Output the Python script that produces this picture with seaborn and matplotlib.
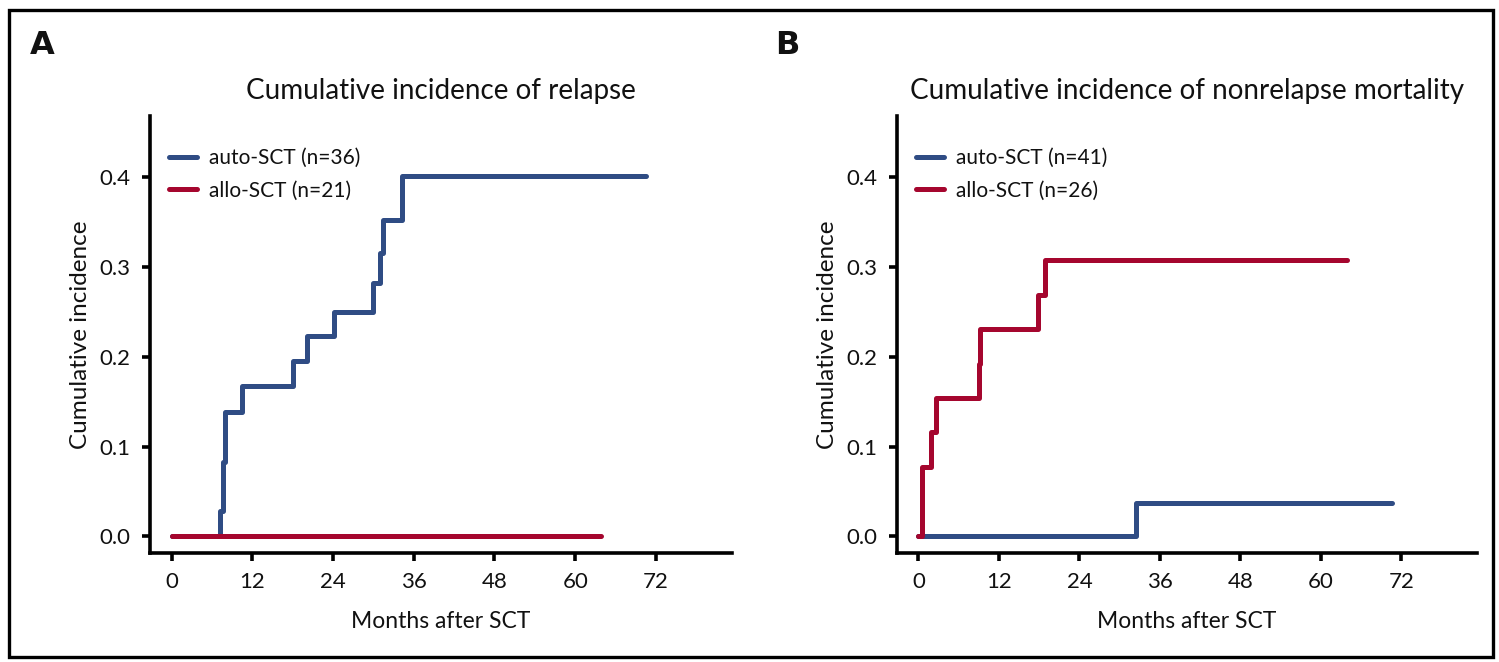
import matplotlib
matplotlib.use("Agg")
import matplotlib.pyplot as plt
import seaborn as sns
import pandas as pd
from matplotlib.patches import Rectangle

# ---- data ----
relapse_auto_t = [0, 7.2, 7.6, 7.9, 10.4, 18.1, 20.1, 24.2, 29.9, 31.0, 31.5, 34.2, 70.5]
relapse_auto_v = [0, 0.028, 0.083, 0.139, 0.167, 0.195, 0.223, 0.250, 0.282, 0.315, 0.352, 0.401, 0.401]
relapse_allo_t = [0, 63.9]
relapse_allo_v = [0, 0]

nrm_auto_t = [0, 32.5, 70.6]
nrm_auto_v = [0, 0.037, 0.037]
nrm_allo_t = [0, 0.5, 0.6, 1.85, 2.6, 9.0, 9.2, 17.9, 18.8, 63.9]
nrm_allo_v = [0, 0.036, 0.077, 0.116, 0.154, 0.192, 0.231, 0.269, 0.308, 0.308]

labels_A = ["auto-SCT (n=36)", "allo-SCT (n=21)"]
labels_B = ["auto-SCT (n=41)", "allo-SCT (n=26)"]
titles = ["Cumulative incidence of relapse", "Cumulative incidence of nonrelapse mortality"]
panel_letters = ["A", "B"]
xticks = [0, 12, 24, 36, 48, 60, 72]
yticks = [0.0, 0.1, 0.2, 0.3, 0.4]
xlabel = "Months after SCT"
ylabel = "Cumulative incidence"

BLUE = "#2f4c84"
RED = "#a5062e"

sns.set_theme(style="white")
FONT = ["Lato", "DejaVu Sans"]
plt.rcParams["font.family"] = FONT
plt.rcParams["text.color"] = "#111111"
plt.rcParams["axes.labelcolor"] = "#111111"
plt.rcParams["xtick.color"] = "black"
plt.rcParams["ytick.color"] = "black"

def make_df(t1, v1, t2, v2, labs):
    d1 = pd.DataFrame({"month": t1, "ci": v1, "group": labs[0]})
    d2 = pd.DataFrame({"month": t2, "ci": v2, "group": labs[1]})
    return pd.concat([d1, d2], ignore_index=True)

dfA = make_df(relapse_auto_t, relapse_auto_v, relapse_allo_t, relapse_allo_v, labels_A)
dfB = make_df(nrm_auto_t, nrm_auto_v, nrm_allo_t, nrm_allo_v, labels_B)

fig = plt.figure(figsize=(14.99, 6.62), dpi=100)
W, H = 1499, 662
axA = fig.add_axes([150 / W, 1 - 553 / H, 582 / W, 437 / H])
axB = fig.add_axes([897 / W, 1 - 553 / H, 580 / W, 437 / H])

for ax, df, labs, title in [(axA, dfA, labels_A, titles[0]), (axB, dfB, labels_B, titles[1])]:
    sns.lineplot(data=df, x="month", y="ci", hue="group", hue_order=labs,
                 palette=[BLUE, RED], drawstyle="steps-post", estimator=None,
                 linewidth=3.6, ax=ax, legend=True)
    ax.set_xlim(-3.2, 83.3)
    ax.set_ylim(-0.0185, 0.468)
    ax.set_xticks(xticks)
    ax.set_yticks(yticks)
    ax.set_yticklabels([f"{v:.1f}" for v in yticks])
    for s in ["top", "right"]:
        ax.spines[s].set_visible(False)
    for s in ["left", "bottom"]:
        ax.spines[s].set_linewidth(2.6)
        ax.spines[s].set_color("black")
    ax.tick_params(axis="both", direction="out", length=6, width=2.6, color="black",
                   labelsize=16, pad=8, left=True, bottom=True, labelcolor="#111111")
    ax.set_xlabel(xlabel, fontsize=16.5, labelpad=13)
    ax.set_ylabel(ylabel, fontsize=17.5, labelpad=6)
    ax.set_title(title, fontsize=20, pad=12, color="#111111")
    handles, lbls = ax.get_legend_handles_labels()
    leg = ax.legend(handles, lbls, loc="upper left", frameon=False, fontsize=15,
                    handlelength=1.35, handletextpad=0.6, labelspacing=0.6,
                    bbox_to_anchor=(0.0, 0.97))
    for lh in leg.get_lines():
        lh.set_linewidth(3.6)

fig.text(30 / W, 1 - 46 / H, panel_letters[0], fontsize=23, fontweight="bold",
         va="center", ha="left", family=["DejaVu Sans"])
fig.text(775 / W, 1 - 46 / H, panel_letters[1], fontsize=23, fontweight="bold",
         va="center", ha="left", family=["DejaVu Sans"])

fig.patches.append(Rectangle((9 / W, 1 - 657 / H), (1493 - 9) / W, (657 - 10) / H,
                             transform=fig.transFigure, fill=False, edgecolor="black",
                             linewidth=2.4, zorder=10))

fig.savefig("out.png", dpi=100)
